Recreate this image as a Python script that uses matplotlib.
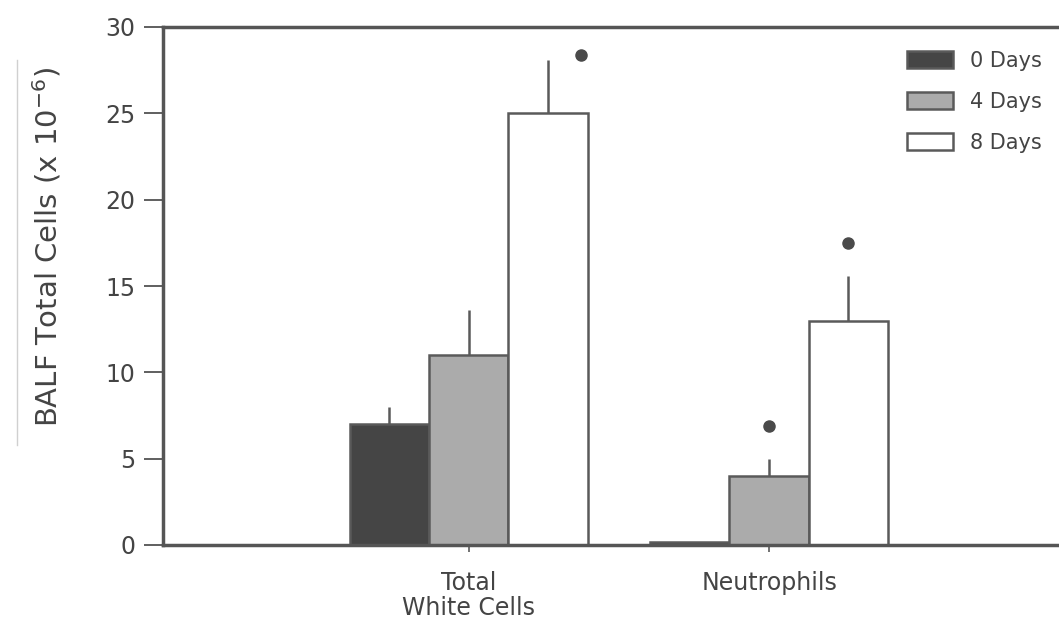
import matplotlib.pyplot as plt
import numpy as np
from matplotlib.lines import Line2D

groups = ['Total\nWhite Cells', 'Neutrophils']
series = ['0 Days', '4 Days', '8 Days']
values = {
    '0 Days': [7.0, 0.15],
    '4 Days': [11.0, 4.0],
    '8 Days': [25.0, 13.0],
}
errors = {
    '0 Days': [1.0, 0.0],
    '4 Days': [2.6, 1.0],
    '8 Days': [3.1, 2.6],
}
colors = {'0 Days': '#454545', '4 Days': '#ababab', '8 Days': '#ffffff'}
# significance dots: (group index, series, y, x shift)
stars = [(0, '8 Days', 28.4, 0.11), (1, '4 Days', 6.9, 0.0), (1, '8 Days', 17.5, 0.0)]

fig = plt.figure(figsize=(10.59, 6.36), dpi=100)
ax = fig.add_axes([163 / 1059, 1 - 545 / 636, 1 - 163 / 1059 + 0.01, (545 - 27) / 636])

width = 0.264
x = np.arange(len(groups))
offsets = {'0 Days': -width, '4 Days': 0.0, '8 Days': width}
textc = '#444444'
for s in series:
    pos = x + offsets[s]
    ax.bar(pos, values[s], width, color=colors[s], edgecolor='#5a5a5a',
           linewidth=1.8, label=s, zorder=2)
    errs = np.array(errors[s])
    ax.errorbar(pos, values[s], yerr=[np.zeros_like(errs), errs], fmt='none',
                ecolor='#5a5a5a', elinewidth=1.8, capsize=0, zorder=1)

for gi, s, yv, dx in stars:
    ax.plot(gi + offsets[s] + dx, yv, 'o', color='#4a4a4a', markersize=8)

ax.set_ylim(0, 30)
ax.set_xlim(-1.017, 2.0)
ax.set_yticks(range(0, 31, 5))
ax.set_xticks(x)
ax.set_xticklabels(groups, fontsize=17, color=textc, linespacing=1.05)
ax.tick_params(axis='y', labelsize=17, colors=textc, length=14, width=1.2, pad=6)
ax.tick_params(axis='x', length=5, width=1.2, colors='#5a5a5a', labelcolor=textc, pad=14)

for sp in ['left', 'top', 'bottom']:
    ax.spines[sp].set_linewidth(2.5)
    ax.spines[sp].set_color('#555555')
ax.spines['right'].set_visible(False)

ax.set_ylabel('BALF Total Cells (x 10$^{-6}$)', fontsize=21, color=textc)
ax.yaxis.set_label_coords(-0.11, 0.575)

ax.legend(loc='upper right', bbox_to_anchor=(0.99, 0.99), frameon=False,
          fontsize=15, handlelength=2.2, handleheight=0.9, labelspacing=1.0,
          handletextpad=0.8, labelcolor=textc)

# faint scan line at the left edge
fig.add_artist(Line2D([17 / 1059, 17 / 1059], [1 - 445 / 636, 1 - 60 / 636],
                      color='#d0d0d0', linewidth=1))

fig.savefig('out.png', dpi=100)
